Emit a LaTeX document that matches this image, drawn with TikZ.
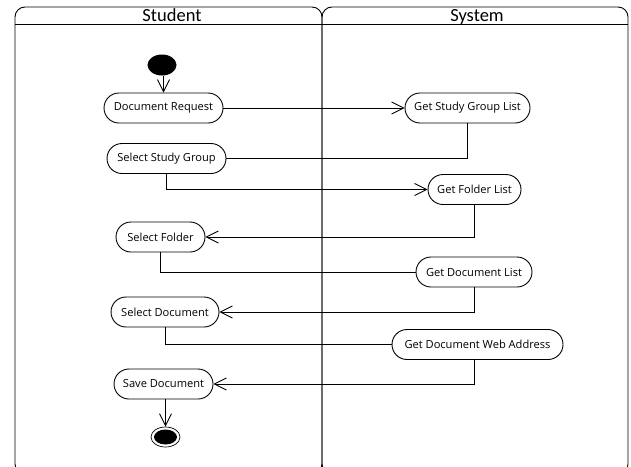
\documentclass[tikz,border=0pt]{standalone}
\usepackage{fontspec}
\setmainfont{Open Sans}
\newfontfamily\headfont{Carlito}
\usetikzlibrary{arrows.meta,shapes.geometric}

\tikzset{
  x=1pt, y=-1pt,
  line/.style={draw=black, line width=0.9pt},
  arr/.style={line, -{Straight Barb[length=12pt,width=12pt,line width=0.9pt]}},
  action/.style={rectangle, rounded corners=15pt, draw=black, line width=0.9pt, fill=white,
    minimum height=30pt, inner xsep=4pt, font=\fontsize{11.1}{13}\selectfont},
  lanehead/.style={anchor=base, font=\headfont\fontsize{18.5}{20}\selectfont},
  startnode/.style={ellipse, fill=black, minimum width=29pt, minimum height=21pt, inner sep=0pt},
}

\begin{document}
\begin{tikzpicture}
  \useasboundingbox (0,0) rectangle (631,466);
  \clip (0,0) rectangle (631,466);

  % swimlanes: two lanes with rounded corners, header band on top
  \draw[line, rounded corners=10pt] (15,7) rectangle (322,474);
  \draw[line, rounded corners=10pt] (322,7) rectangle (628,474);
  \draw[line] (15,24) -- (628,24);
  \node[lanehead] (hStudent) at (172,21.5) {Student};
  \node[lanehead] (hSystem) at (477,21.5) {System};

  % initial and final nodes
  \node[startnode] (init) at (162,65) {};
  \node[ellipse, draw=black, line width=0.7pt, minimum width=29pt, minimum height=20pt, inner sep=0pt] (final) at (165.5,437) {};
  \node[ellipse, fill=black, minimum width=23pt, minimum height=15pt, inner sep=0pt] (finalcore) at (165.5,437) {};

  % actions in the Student lane
  \node[action, minimum width=119pt] (docreq) at (163.5,108) {Document Request};
  \node[action, minimum width=119pt] (selsg) at (166.5,158.5) {Select Study Group};
  \node[action, minimum width=89pt] (selfolder) at (160.5,237) {Select Folder};
  \node[action, minimum width=108pt] (seldoc) at (165,312) {Select Document};
  \node[action, minimum width=99pt] (savedoc) at (163.5,384) {Save Document};

  % actions in the System lane
  \node[action, minimum width=125pt] (getsgl) at (467.5,108) {Get Study Group List};
  \node[action, minimum width=93pt] (getfl) at (474.5,189.5) {Get Folder List};
  \node[action, minimum width=116pt] (getdl) at (474,272) {Get Document List};
  \node[action, minimum width=171pt] (getwa) at (477.5,344.5) {Get Document Web Address};

  % control flow
  \draw[arr] (init.south -| docreq.north) -- (docreq.north);
  \draw[arr] (docreq.east) -- (getsgl.west);
  \draw[line] (getsgl.south) |- (selsg.east);
  \draw[arr] (selsg.south) |- (getfl.west);
  \draw[arr] (getfl.south) |- (selfolder.east);
  \draw[line] (selfolder.south) |- (getdl.west);
  \draw[arr] (getdl.south) |- (seldoc.east);
  \draw[line] (seldoc.south) |- (getwa.west);
  \draw[arr] (getwa.south -| getdl.south) |- (savedoc.east);
  \draw[arr] (savedoc.south -| final.north) -- (final.north);
\end{tikzpicture}
\end{document}
